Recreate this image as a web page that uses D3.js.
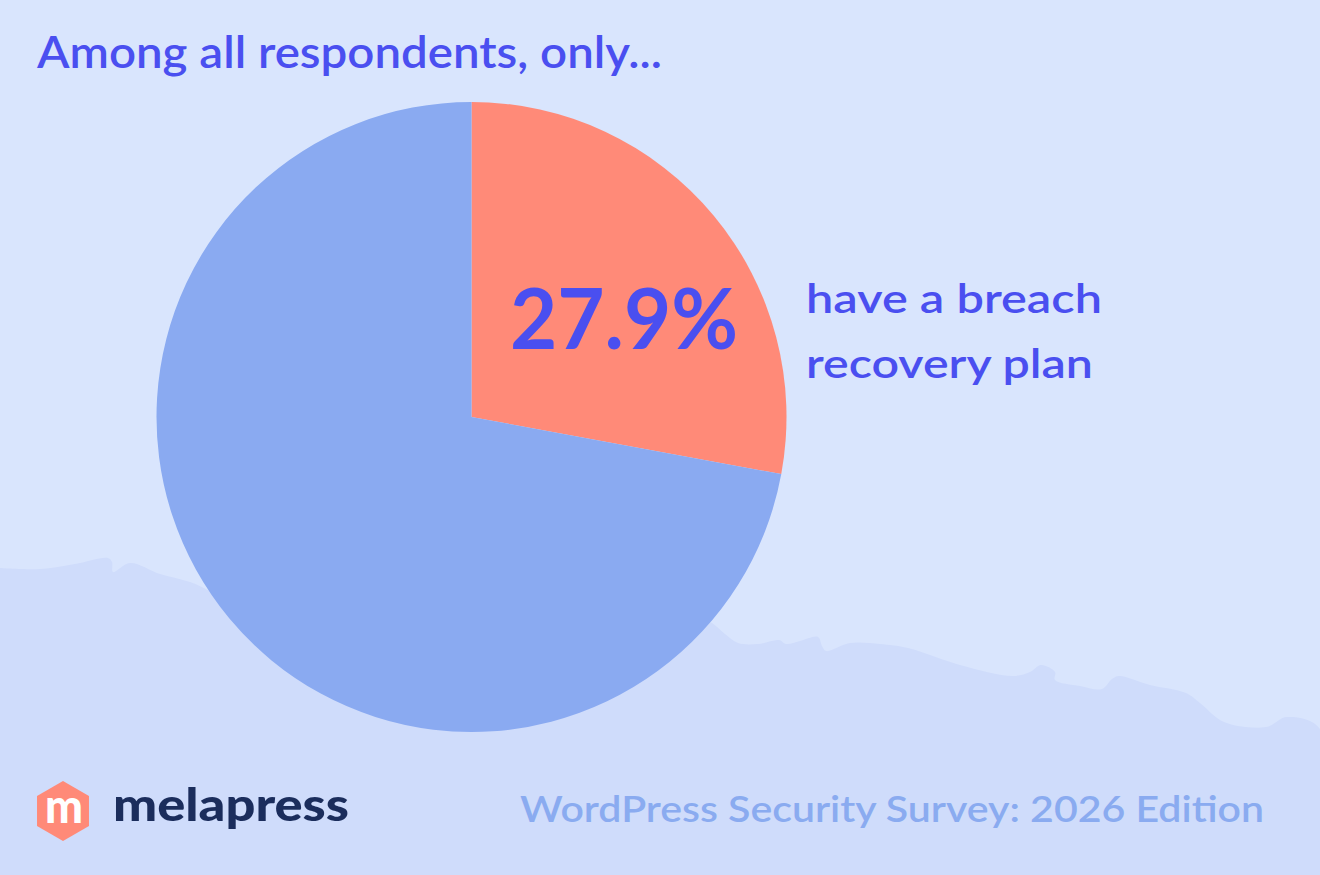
<!DOCTYPE html>
<html>
<head>
<meta charset="utf-8">
<script src="https://cdn.jsdelivr.net/npm/d3@7"></script>
<style>
  html, body { margin: 0; padding: 0; background: #d9e5fd; }
  svg { display: block; }
</style>
</head>
<body>
<div id="chart"></div>
<script>
// chart data
const categories = ['Have a breach recovery plan', 'No breach recovery plan']
const values = [27.9, 72.1]
const sliceColors = ['#ff8a78', '#8aaaf1']

const width = 1320
const height = 875

const svg = d3.select('#chart')
    .append('svg')
    .attr('width', width)
    .attr('height', height)
    .style('font-family', 'Lato, "Open Sans", sans-serif')

// background
svg.append('rect')
    .attr('width', width)
    .attr('height', height)
    .attr('fill', '#d9e5fd')

// hills behind the pie (decoration only, middle points sit under the pie)
const hill = [[0, 568], [40, 569], [75, 564], [108, 558], [112, 562], [113, 572], [130, 563], [160, 574], [190, 582],
    [240, 600], [471, 560], [700, 618],
    [712, 623], [725, 634], [738, 643], [758, 644], [779, 640], [786, 644], [800, 641], [818, 637], [822, 646], [826, 651],
    [850, 643], [880, 644], [908, 648], [960, 665], [1013, 676], [1030, 672], [1041, 665], [1055, 672], [1055, 680],
    [1080, 686], [1102, 689], [1112, 679], [1119, 676], [1150, 685], [1186, 693], [1200, 703], [1224, 722], [1266, 727],
    [1287, 717], [1320, 729], [1320, 875], [0, 875]]

const hillLine = d3.line().curve(d3.curveCatmullRom.alpha(0.5))
svg.append('path')
    .attr('d', hillLine(hill) + 'Z')
    .attr('fill', '#cfdcfb')

// title
svg.append('text')
    .attr('x', 37)
    .attr('y', 68)
    .attr('font-size', 44)
    .attr('font-weight', 600)
    .attr('fill', '#4a4ff0')
    .attr('textLength', 625)
    .attr('lengthAdjust', 'spacingAndGlyphs')
    .text('Among all respondents, only...')

// pie
const radius = 315
const g = svg.append('g')
    .attr('transform', 'translate(471.5,417)')

const pie = d3.pie().sort(null).value(d => d)
const arc = d3.arc().innerRadius(0).outerRadius(radius)

g.selectAll('.slice')
    .data(pie(values))
    .enter().append('path')
    .attr('class', 'slice')
    .attr('d', arc)
    .attr('fill', (d, i) => sliceColors[i])

// big percentage
svg.append('text')
    .attr('x', 510)
    .attr('y', 349)
    .attr('font-size', 84)
    .attr('font-weight', 700)
    .attr('fill', '#4a4ff0')
    .attr('textLength', 228)
    .attr('lengthAdjust', 'spacingAndGlyphs')
    .text(values[0] + '%')

// label
const labelLines = ['have a breach', 'recovery plan']
const labelWidths = [296, 287]
svg.selectAll('.label')
    .data(labelLines)
    .enter().append('text')
    .attr('class', 'label')
    .attr('x', 806)
    .attr('y', (d, i) => 313 + i * 65)
    .attr('font-size', 41)
    .attr('font-weight', 600)
    .attr('fill', '#4a4ff0')
    .attr('textLength', (d, i) => labelWidths[i])
    .attr('lengthAdjust', 'spacingAndGlyphs')
    .text(d => d)

// footer
svg.append('text')
    .attr('x', 520)
    .attr('y', 822)
    .attr('font-size', 36)
    .attr('font-weight', 600)
    .attr('fill', '#8aabf0')
    .attr('textLength', 744)
    .attr('lengthAdjust', 'spacingAndGlyphs')
    .text('WordPress Security Survey: 2026 Edition')

// logo
const hex = d3.range(6).map(i => {
    let a = Math.PI / 3 * i - Math.PI / 2
    return [63 + 30 * Math.cos(a), 811 + 30 * Math.sin(a)]
})
svg.append('path')
    .attr('d', d3.line()(hex) + 'Z')
    .attr('fill', '#ff8a78')
svg.append('text')
    .attr('x', 64)
    .attr('y', 823)
    .attr('text-anchor', 'middle')
    .attr('font-size', 48)
    .attr('font-weight', 900)
    .attr('fill', '#ffffff')
    .attr('textLength', 38)
    .attr('lengthAdjust', 'spacingAndGlyphs')
    .text('m')
svg.append('text')
    .attr('x', 113)
    .attr('y', 821)
    .attr('font-size', 46)
    .attr('font-weight', 900)
    .attr('fill', '#1b2d5c')
    .attr('textLength', 236)
    .attr('lengthAdjust', 'spacingAndGlyphs')
    .text('melapress')
</script>
</body>
</html>
